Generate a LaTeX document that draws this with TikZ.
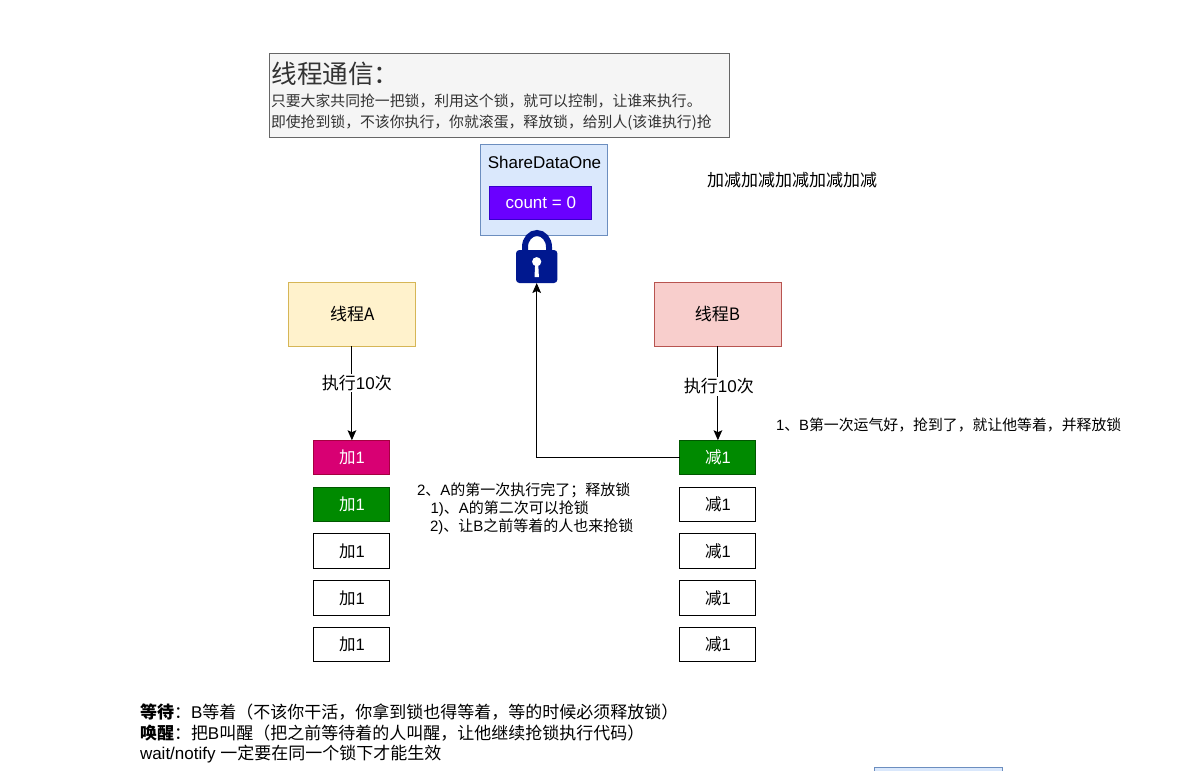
\documentclass[tikz,border=0pt]{standalone}
\usepackage{fontspec}
\usetikzlibrary{arrows.meta}
\setmainfont{Liberation Sans}
\newfontfamily\cjk{Noto Sans CJK SC}
\newcommand{\C}[1]{{\cjk #1}}
\makeatletter
\newcommand{\pxfont}[2]{\pgfmathsetlengthmacro\@a{#1*0.75pt}\pgfmathsetlengthmacro\@b{#2*0.75pt}\fontsize{\@a}{\@b}\selectfont}
\makeatother
\definecolor{lockblue}{HTML}{00188F}
\definecolor{titlefill}{HTML}{F5F5F5}
\definecolor{titleline}{HTML}{666666}
\definecolor{titletext}{HTML}{333333}
\definecolor{bluefill}{HTML}{DAE8FC}
\definecolor{blueline}{HTML}{6C8EBF}
\definecolor{purplefill}{HTML}{6A00FF}
\definecolor{purpleline}{HTML}{3700CC}
\definecolor{yellowfill}{HTML}{FFF2CC}
\definecolor{yellowline}{HTML}{D6B656}
\definecolor{redfill}{HTML}{F8CECC}
\definecolor{redline}{HTML}{B85450}
\definecolor{pinkfill}{HTML}{D80073}
\definecolor{pinkline}{HTML}{A50040}
\definecolor{greenfill}{HTML}{008A00}
\definecolor{greenline}{HTML}{005700}
\tikzset{
  base/.style={draw,line width=0.75pt,inner sep=0pt,outer sep=0pt,align=center},
  thread/.style={base,minimum width=95.25pt,minimum height=48pt,font=\pxfont{17}{20}},
  itembox/.style={base,minimum width=57pt,minimum height=25.9pt,font=\pxfont{16.5}{20},fill=white,draw=black},
  pinkbox/.style={itembox,fill=pinkfill,draw=pinkline,text=white},
  greenbox/.style={itembox,fill=greenfill,draw=greenline,text=white},
  note/.style={inner sep=0pt,outer sep=0pt,align=left,text=black},
  edge/.style={line width=0.75pt,draw=black,-{Stealth[length=7.5pt,width=6.5pt,inset=1.5pt]}},
  edgelabel/.style={fill=white,inner sep=1pt,font=\pxfont{17}{20}}
}
\begin{document}
\begin{tikzpicture}[x=0.75pt,y=-0.75pt]
\useasboundingbox (0,0) rectangle (1183,771);
% title
\node[base,fill=titlefill,draw=titleline,minimum width=345pt,minimum height=63pt] (title) at (499,95) {};
\node[note,text=titletext,anchor=west,font=\pxfont{25.6}{26}] (t1) at (271.5,73.5) {\C{线程通信：}};
\node[note,text=titletext,anchor=west,font=\pxfont{14.85}{20}] (t2) at (271,101) {\C{只要大家共同抢一把锁，利用这个锁，就可以控制，让谁来执行。}};
\node[note,text=titletext,anchor=west,font=\pxfont{14.85}{20}] (t3) at (271,123) {\C{即使抢到锁，不该你执行，你就滚蛋，释放锁，给别人(该谁执行)抢}};
% shared data
\node[base,fill=bluefill,draw=blueline,minimum width=95.25pt,minimum height=68.25pt] (share) at (544.3,189.5) {};
\node[note,font=\pxfont{17}{20}] (sharetext) at (544.5,162) {ShareDataOne};
\node[base,fill=purplefill,draw=purpleline,text=white,minimum width=76.5pt,minimum height=24.75pt,font=\pxfont{17}{20}] (count) at (540.8,202.5) {count = 0};
% lock
\draw[lockblue,line width=4.5pt] (525,254) -- (525,247) arc[start angle=180,end angle=360,x radius=12,y radius=14] -- (549,254);
\node[fill=lockblue,rounded corners=2.5pt,minimum width=31pt,minimum height=24.75pt,inner sep=0pt,outer sep=0pt] (lock) at (536.7,266.5) {};
\fill[white] (536.7,261.7) circle[radius=4.6];
\fill[white] (535.2,263) -- (538.2,263) -- (538.9,277) -- (534.5,277) -- cycle;
% threads
\node[thread,fill=yellowfill,draw=yellowline] (a) at (352.3,314) {\C{线程A}};
\node[thread,fill=redfill,draw=redline] (b) at (717.5,314) {\C{线程B}};
% items A
\node[pinkbox] (a1) at (351.9,457.5) {\C{加}1};
\node[greenbox] (a2) at (351.9,504.5) {\C{加}1};
\node[itembox] (a3) at (351.9,551) {\C{加}1};
\node[itembox] (a4) at (351.9,598) {\C{加}1};
\node[itembox] (a5) at (351.9,644.5) {\C{加}1};
% items B
\node[greenbox] (b1) at (717.9,457.5) {\C{减}1};
\node[itembox] (b2) at (717.9,504.5) {\C{减}1};
\node[itembox] (b3) at (717.9,551) {\C{减}1};
\node[itembox] (b4) at (717.9,598) {\C{减}1};
\node[itembox] (b5) at (717.9,644.5) {\C{减}1};
% connectors
\draw[edge] (a.south -| a1.north) -- node[edgelabel,pos=0.395,xshift=3.75pt] {\C{执行}10\C{次}} (a1.north);
\draw[edge] (b.south -| b1.north) -- node[edgelabel,pos=0.43,xshift=0.75pt] {\C{执行}10\C{次}} (b1.north);
\draw[edge] (b1.west) -| (lock.south);
% notes
\node[note,anchor=west,font=\pxfont{17}{20}] (n0) at (707,180) {\C{加减加减加减加减加减}};
\node[note,anchor=west,font=\pxfont{14.87}{20}] (n1) at (776,424.5) {1\C{、}B\C{第一次运气好，抢到了，就让他等着，并释放锁}};
\node[note,anchor=west,font=\pxfont{15}{18}] (n2) at (417,490.2) {2\C{、}A\C{的第一次执行完了；释放锁}};
\node[note,anchor=west,font=\pxfont{15}{18}] (n3) at (430.5,508.2) {1)\C{、}A\C{的第二次可以抢锁}};
\node[note,anchor=west,font=\pxfont{15}{18}] (n4) at (430,526.2) {2)\C{、让}B\C{之前等着的人也来抢锁}};
\node[note,anchor=west,font=\pxfont{17}{20}] (w1) at (140,712.5) {\C{\bfseries 等待}\C{：}B\C{等着（不该你干活，你拿到锁也得等着，等的时候必须释放锁）}};
\node[note,anchor=west,font=\pxfont{17}{20}] (w2) at (140,733.5) {\C{\bfseries 唤醒}\C{：把}B\C{叫醒（把之前等待着的人叫醒，让他继续抢锁执行代码）}};
\node[note,anchor=west,font=\pxfont{17}{20}] (w3) at (140,754) {wait/notify \C{一定要在同一个锁下才能生效}};
% cropped box at the bottom edge
\path[clip] (0,0) rectangle (1183,771);
\node[base,fill=bluefill,draw=blueline,minimum width=96pt,minimum height=48pt,anchor=north west] (next) at (874,767.5) {};
\end{tikzpicture}
\end{document}
